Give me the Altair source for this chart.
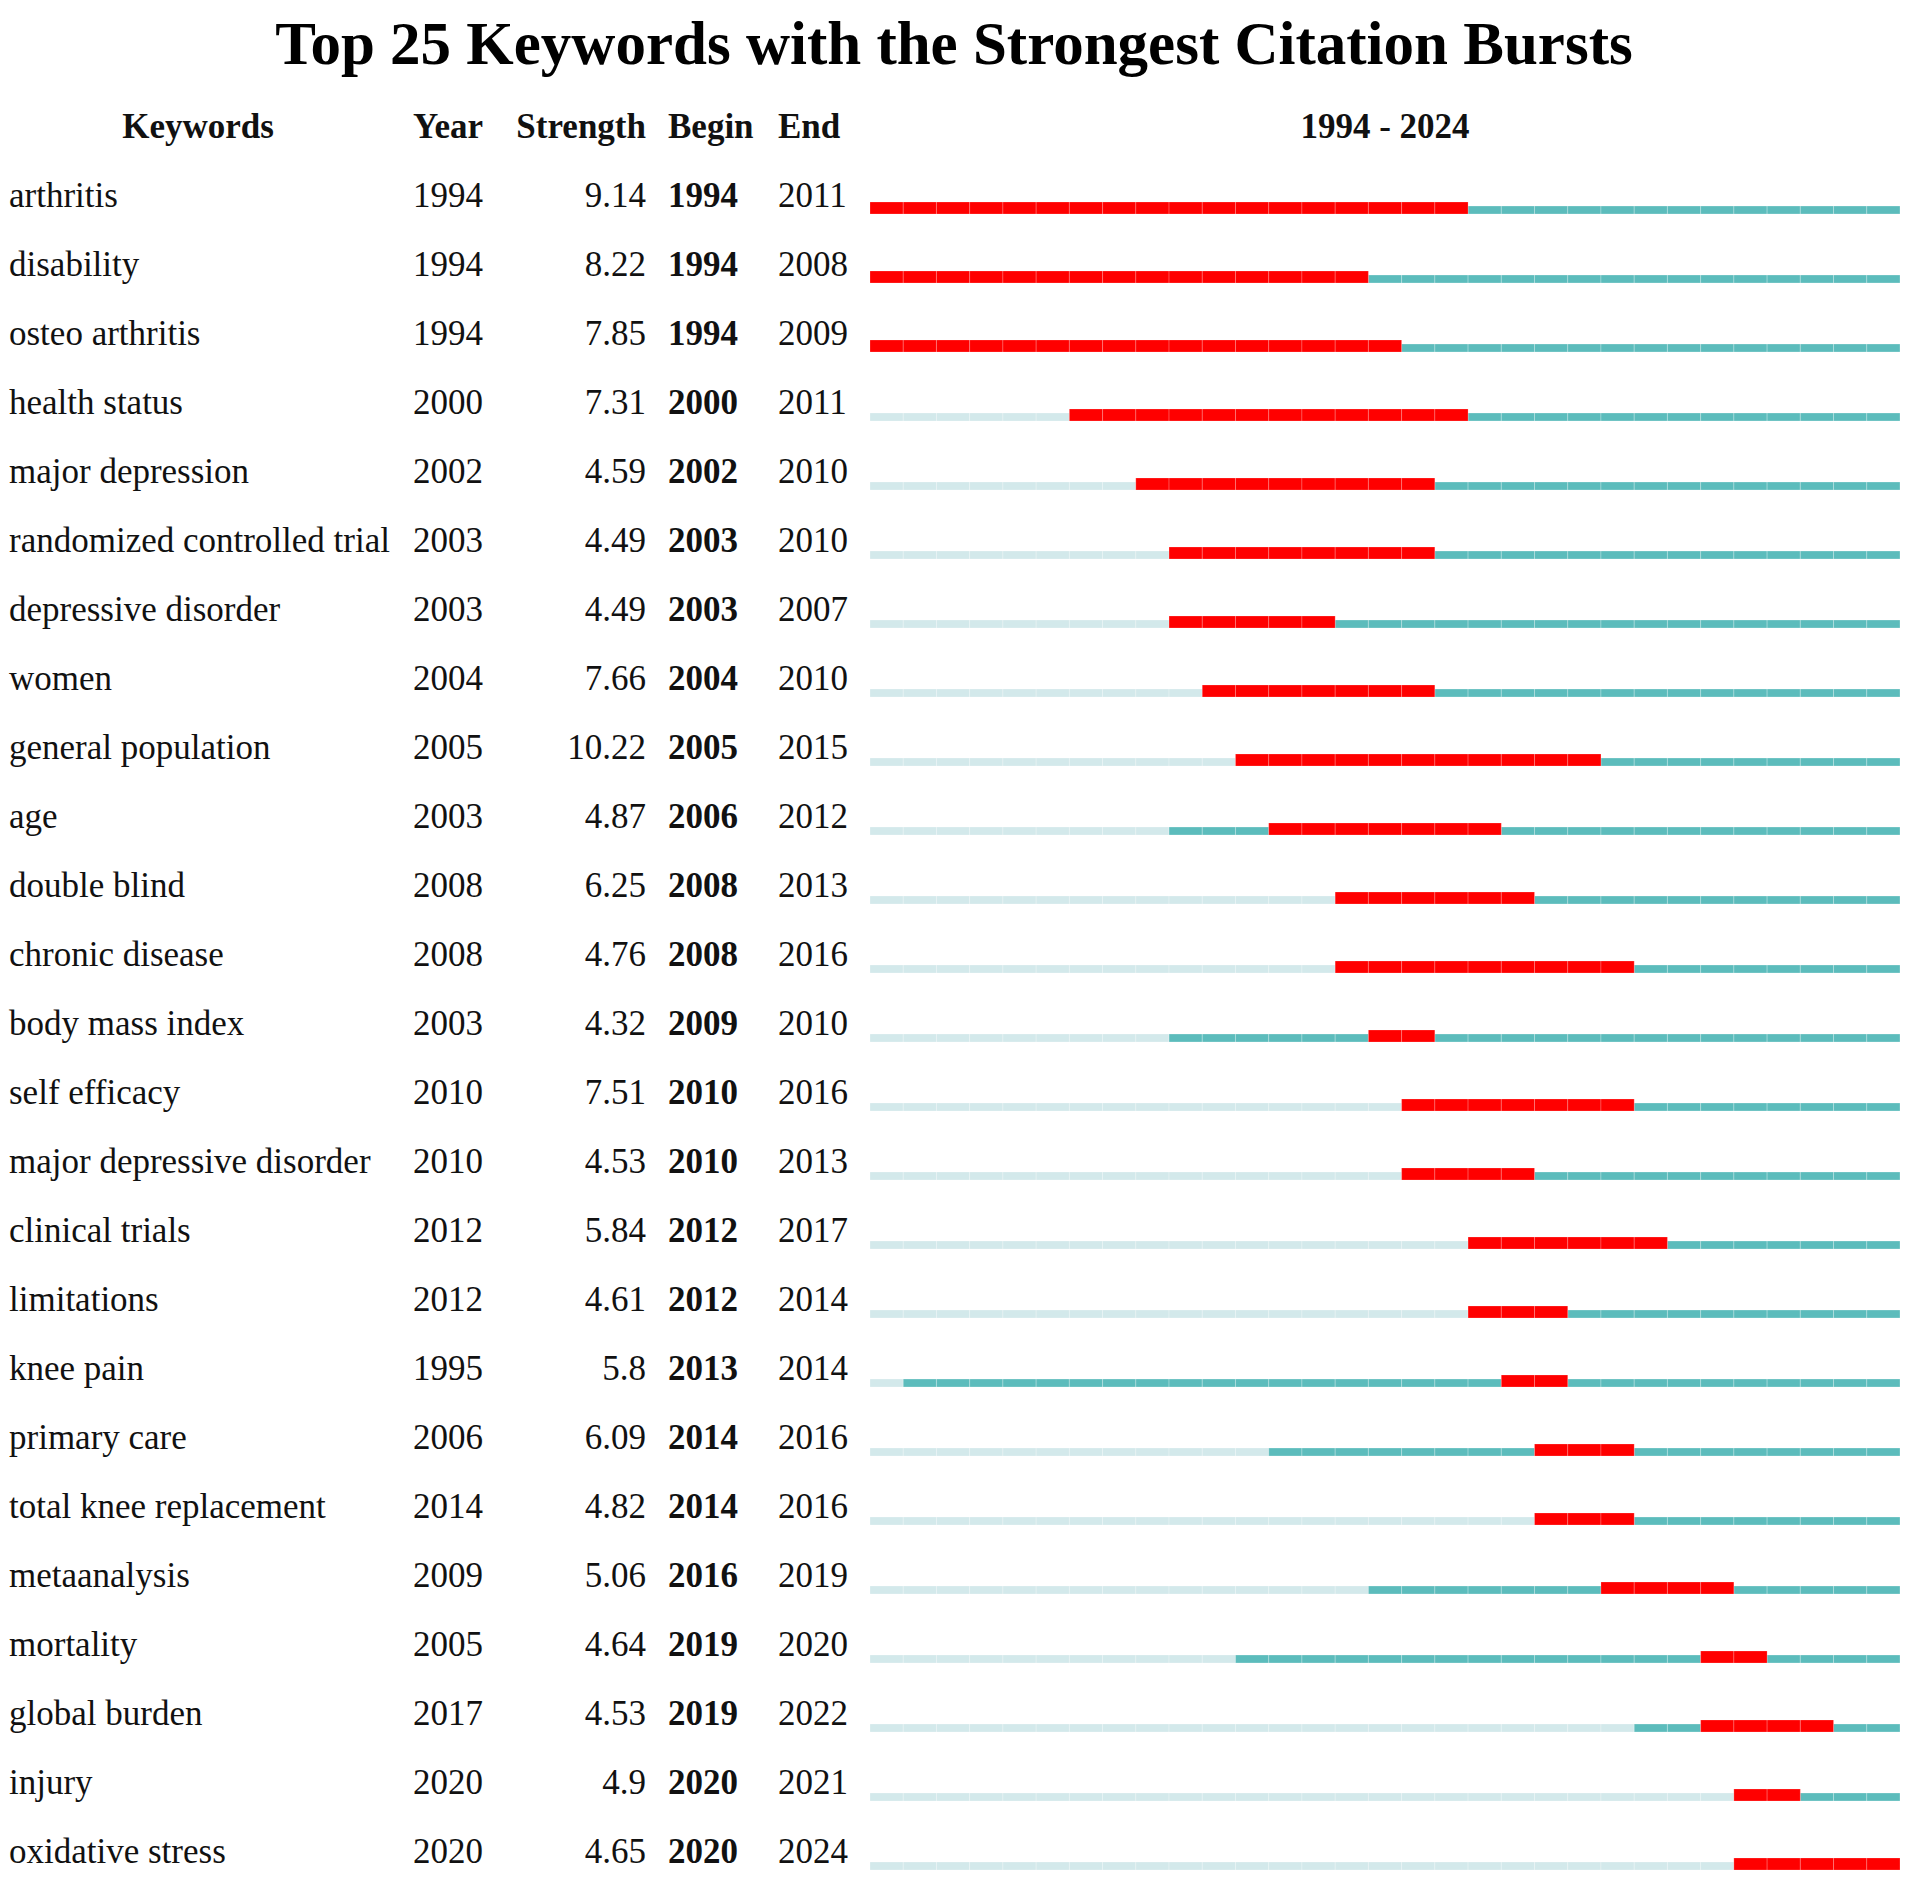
import altair as alt
import pandas as pd

keywords = ["arthritis", "disability", "osteo arthritis", "health status", "major depression",
            "randomized controlled trial", "depressive disorder", "women", "general population", "age",
            "double blind", "chronic disease", "body mass index", "self efficacy",
            "major depressive disorder", "clinical trials", "limitations", "knee pain", "primary care",
            "total knee replacement", "metaanalysis", "mortality", "global burden", "injury",
            "oxidative stress"]
first_year = [1994, 1994, 1994, 2000, 2002, 2003, 2003, 2004, 2005, 2003, 2008, 2008, 2003, 2010,
              2010, 2012, 2012, 1995, 2006, 2014, 2009, 2005, 2017, 2020, 2020]
strength = [9.14, 8.22, 7.85, 7.31, 4.59, 4.49, 4.49, 7.66, 10.22, 4.87, 6.25, 4.76, 4.32, 7.51,
            4.53, 5.84, 4.61, 5.8, 6.09, 4.82, 5.06, 4.64, 4.53, 4.9, 4.65]
begin = [1994, 1994, 1994, 2000, 2002, 2003, 2003, 2004, 2005, 2006, 2008, 2008, 2009, 2010, 2010,
         2012, 2012, 2013, 2014, 2014, 2016, 2019, 2019, 2020, 2020]
end = [2011, 2008, 2009, 2011, 2010, 2010, 2007, 2010, 2015, 2012, 2013, 2016, 2010, 2016, 2013,
       2017, 2014, 2014, 2016, 2016, 2019, 2020, 2022, 2021, 2024]
period_start, period_end = 1994, 2024
headers = ["Keywords", "Year", "Strength", "Begin", "End"]

FONT = "Liberation Serif"
FS = 35
RED, TEAL, LIGHT = "#FF0000", "#5CBCBC", "#D3E9EB"

rows = pd.DataFrame({
    "idx": list(range(len(keywords))),
    "kw": keywords,
    "year": [str(v) for v in first_year],
    "strength": [str(v) for v in strength],
    "begin": [str(v) for v in begin],
    "end": [str(v) for v in end],
})

cells = []
for i in range(len(keywords)):
    for yr in range(period_start, period_end + 1):
        if begin[i] <= yr <= end[i]:
            st = "burst"
        elif yr >= first_year[i]:
            st = "active"
        else:
            st = "before"
        cells.append({"idx": i, "yr": yr, "yr_end": yr + 1, "status": st})
cells = pd.DataFrame(cells)

TOP = 74
yscale = alt.Scale(domain=[-1, len(keywords) - 1], range=[130 - TOP, 130 - TOP + 69 * len(keywords)],
                   zero=False, nice=False)
xscale = alt.Scale(domain=[period_start, period_end + 1], range=[862, 1892], zero=False, nice=False)
Y = alt.Y("idx:Q", scale=yscale, axis=None)
color_scale = alt.Scale(domain=["before", "active", "burst"], range=[LIGHT, TEAL, RED])

base_cells = alt.Chart(cells).transform_filter(alt.datum.status != "burst").mark_rect(
    yOffset=-1, y2Offset=7, stroke="white", strokeWidth=0.5, strokeOpacity=0.5
).encode(
    x=alt.X("yr:Q", scale=xscale, axis=None),
    x2="yr_end:Q",
    y=Y,
    y2="idx:Q",
    color=alt.Color("status:N", scale=color_scale, legend=None),
)
burst_cells = alt.Chart(cells).transform_filter(alt.datum.status == "burst").mark_rect(
    yOffset=-5, y2Offset=7, stroke="white", strokeWidth=0.5, strokeOpacity=0.4
).encode(
    x=alt.X("yr:Q", scale=xscale, axis=None),
    x2="yr_end:Q",
    y=Y,
    y2="idx:Q",
    color=alt.Color("status:N", scale=color_scale, legend=None),
)

def col(field, xpos, align, bold=False):
    return alt.Chart(rows).mark_text(
        align=align, baseline="alphabetic", font=FONT, fontSize=FS,
        fontWeight="bold" if bold else "normal", color="#111111"
    ).encode(x=alt.value(xpos), y=Y, text=f"{field}:N")

hdr = pd.DataFrame({"idx": [-1] * 5, "h": headers,
                    "pos": [190, 405, 638, 660, 770],
                    "al": ["center", "left", "right", "left", "left"]})

def header(i):
    d = hdr.iloc[[i]]
    return alt.Chart(d).mark_text(
        align=d["al"].iloc[0], baseline="alphabetic", font=FONT, fontSize=FS,
        fontWeight="bold", color="#111111"
    ).encode(x=alt.value(int(d["pos"].iloc[0])), y=Y, text="h:N")

range_hdr = alt.Chart(pd.DataFrame({"idx": [-1], "xc": [(period_start + period_end + 1) / 2],
                                    "t": [f"{period_start} - {period_end}"]})).mark_text(
    align="center", baseline="alphabetic", font=FONT, fontSize=FS, fontWeight="bold", color="#111111"
).encode(x=alt.X("xc:Q", scale=xscale, axis=None), y=Y, text="t:N")

chart = alt.layer(
    base_cells, burst_cells,
    col("kw", 1, "left"),
    col("year", 405, "left"),
    col("strength", 638, "right"),
    col("begin", 660, "left", bold=True),
    col("end", 770, "left"),
    header(0), header(1), header(2), header(3), header(4),
    range_hdr,
).properties(
    width=1892, height=1790,
    title=alt.TitleParams(
        text="Top 25 Keywords with the Strongest Citation Bursts",
        font=FONT, fontSize=61, fontWeight="bold", color="#000000", anchor="middle", offset=5,
    ),
    autosize=alt.AutoSizeParams(type="none"),
    padding={"left": 0, "top": TOP, "right": 0, "bottom": 0},
).configure_view(stroke=None)

chart.save("out.html", embed_options={"renderer": "svg", "actions": False})
